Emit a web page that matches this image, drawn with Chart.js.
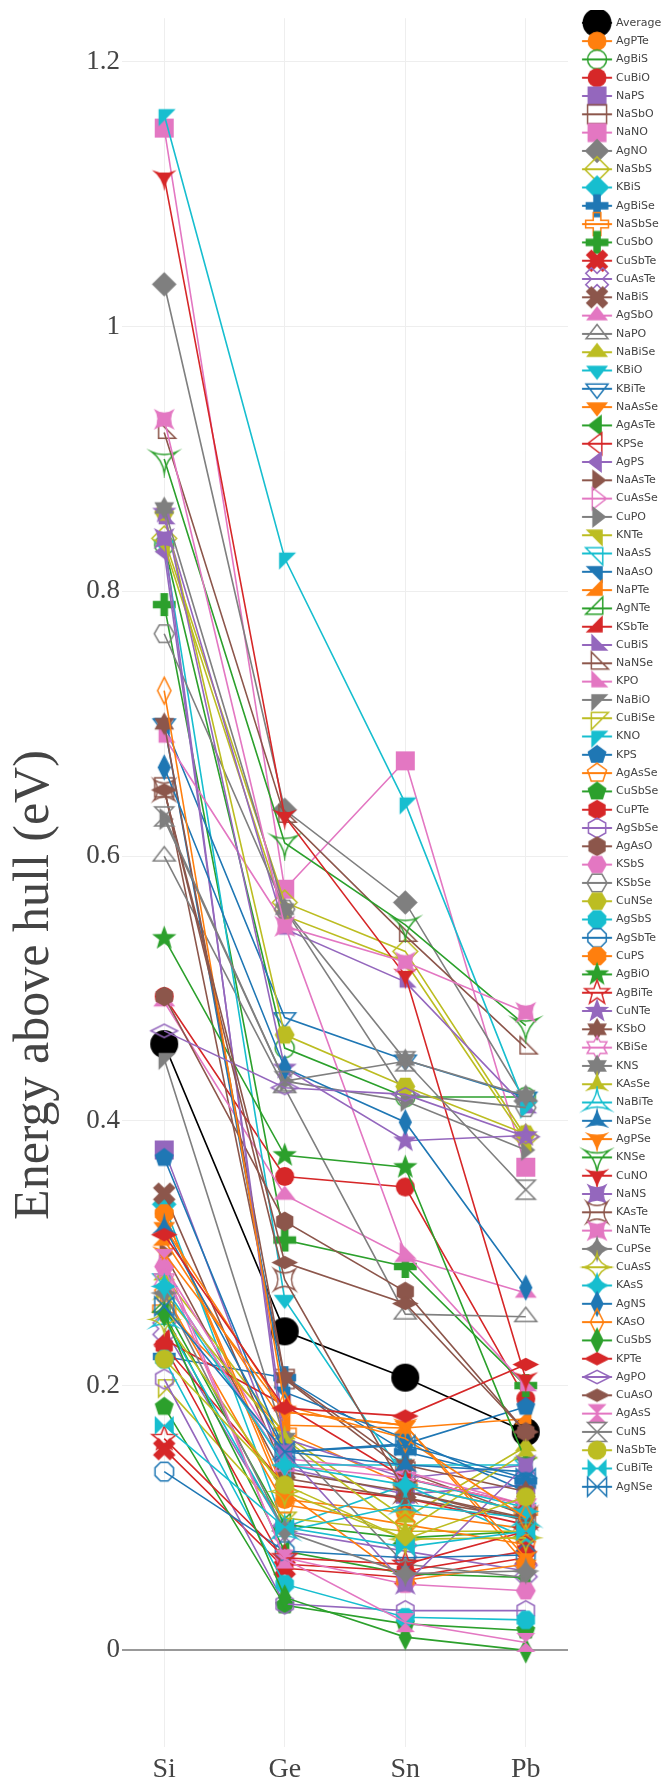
<!DOCTYPE html>
<html>
<head>
<meta charset="utf-8">
<script src="https://cdn.jsdelivr.net/npm/chart.js@4.4.1/dist/chart.umd.min.js"></script>
<style>
  html, body { margin: 0; padding: 0; background: #fff; }
  #wrap { width: 669px; height: 1790px; }
</style>
</head>
<body>
<div id="wrap"><canvas id="hull"></canvas></div>
<script>
/* Energy above hull per compound, across Si / Ge / Sn / Pb. */
var CATEGORIES = ["Si", "Ge", "Sn", "Pb"];
var NAMES = ["Average", "AgPTe", "AgBiS", "CuBiO", "NaPS", "NaSbO", "NaNO", "AgNO", "NaSbS", "KBiS",
  "AgBiSe", "NaSbSe", "CuSbO", "CuSbTe", "CuAsTe", "NaBiS", "AgSbO", "NaPO", "NaBiSe", "KBiO",
  "KBiTe", "NaAsSe", "AgAsTe", "KPSe", "AgPS", "NaAsTe", "CuAsSe", "CuPO", "KNTe", "NaAsS",
  "NaAsO", "NaPTe", "AgNTe", "KSbTe", "CuBiS", "NaNSe", "KPO", "NaBiO", "CuBiSe", "KNO",
  "KPS", "AgAsSe", "CuSbSe", "CuPTe", "AgSbSe", "AgAsO", "KSbS", "KSbSe", "CuNSe", "AgSbS",
  "AgSbTe", "CuPS", "AgBiO", "AgBiTe", "CuNTe", "KSbO", "KBiSe", "KNS", "KAsSe", "NaBiTe",
  "NaPSe", "AgPSe", "KNSe", "CuNO", "NaNS", "KAsTe", "NaNTe", "CuPSe", "CuAsS", "KAsS",
  "AgNS", "KAsO", "CuSbS", "KPTe", "AgPO", "CuAsO", "AgAsS", "CuNS", "NaSbTe", "CuBiTe", "AgNSe"];

// eV above hull, one entry per name above
var SI = [0.458, 0.330, 0.835, 0.494, 0.378, 0.652, 1.150, 1.032, 0.840, 0.337,
  0.222, 0.258, 0.790, 0.152, 0.243, 0.345, 0.490, 0.600, 0.283, 0.835,
  0.700, 0.320, 0.255, 0.230, 0.830, 0.300, 0.290, 0.628, 0.835, 0.280,
  0.700, 0.310, 0.260, 0.235, 0.855, 0.920, 0.690, 0.447, 0.200, 1.160,
  0.372, 0.270, 0.184, 0.230, 0.205, 0.494, 0.290, 0.768, 0.860, 0.220,
  0.135, 0.330, 0.538, 0.160, 0.860, 0.700, 0.280, 0.863, 0.270, 0.250,
  0.320, 0.300, 0.900, 1.113, 0.840, 0.650, 0.930, 0.270, 0.250, 0.275,
  0.667, 0.725, 0.254, 0.314, 0.468, 0.650, 0.296, 0.630, 0.220, 0.170, 0.260];
var GE = [0.241, 0.114, 0.455, 0.358, 0.138, 0.205, 0.575, 0.635, 0.565, 0.093,
  0.206, 0.165, 0.310, 0.062, 0.090, 0.135, 0.344, 0.425, 0.163, 0.265,
  0.478, 0.180, 0.075, 0.125, 0.160, 0.130, 0.145, 0.430, 0.555, 0.140,
  0.195, 0.170, 0.095, 0.185, 0.545, 0.630, 0.548, 0.160, 0.100, 0.825,
  0.150, 0.110, 0.034, 0.065, 0.035, 0.324, 0.070, 0.560, 0.465, 0.050,
  0.075, 0.120, 0.374, 0.070, 0.440, 0.206, 0.140, 0.560, 0.160, 0.090,
  0.150, 0.180, 0.610, 0.630, 0.150, 0.280, 0.547, 0.090, 0.120, 0.140,
  0.440, 0.185, 0.040, 0.183, 0.425, 0.293, 0.069, 0.430, 0.125, 0.093, 0.150];
var SN = [0.206, 0.104, 0.418, 0.350, 0.118, 0.135, 0.672, 0.565, 0.528, 0.125,
  0.150, 0.125, 0.290, 0.055, 0.075, 0.120, 0.297, 0.254, 0.100, 0.130,
  0.446, 0.170, 0.058, 0.115, 0.130, 0.115, 0.135, 0.415, 0.520, 0.140,
  0.160, 0.168, 0.085, 0.130, 0.505, 0.540, 0.300, 0.065, 0.090, 0.640,
  0.156, 0.095, 0.020, 0.060, 0.030, 0.271, 0.050, 0.420, 0.426, 0.025,
  0.070, 0.053, 0.365, 0.065, 0.385, 0.140, 0.130, 0.446, 0.090, 0.110,
  0.140, 0.170, 0.548, 0.510, 0.050, 0.120, 0.520, 0.058, 0.084, 0.125,
  0.399, 0.160, 0.010, 0.177, 0.420, 0.262, 0.021, 0.445, 0.084, 0.078, 0.155];
var PB = [0.165, 0.092, 0.418, 0.190, 0.125, 0.102, 0.365, 0.415, 0.388, 0.085,
  0.128, 0.105, 0.200, 0.070, 0.060, 0.098, 0.270, 0.252, 0.154, 0.108,
  0.418, 0.065, 0.055, 0.095, 0.140, 0.100, 0.110, 0.378, 0.385, 0.140,
  0.120, 0.175, 0.090, 0.110, 0.410, 0.455, 0.200, 0.055, 0.090, 0.410,
  0.184, 0.080, 0.015, 0.075, 0.030, 0.165, 0.045, 0.410, 0.390, 0.023,
  0.072, 0.065, 0.143, 0.090, 0.389, 0.120, 0.110, 0.419, 0.150, 0.100,
  0.135, 0.070, 0.472, 0.205, 0.140, 0.100, 0.482, 0.060, 0.085, 0.105,
  0.274, 0.100, 0.000, 0.216, 0.388, 0.165, 0.006, 0.348, 0.116, 0.090, 0.130];
var Y_TICKS = [0, 0.2, 0.4, 0.6, 0.8, 1, 1.2];
var Y_TITLE = "Energy above hull (eV)";

var PALETTE = ["#1f77b4", "#ff7f0e", "#2ca02c", "#d62728", "#9467bd", "#8c564b", "#e377c2", "#7f7f7f", "#bcbd22", "#17becf"];
var SHAPES = ["circle", "square", "diamond", "cross", "x", "triangle-up", "triangle-down", "triangle-left",
  "triangle-right", "triangle-ne", "triangle-se", "triangle-sw", "triangle-nw", "pentagon", "hexagon",
  "hexagon2", "octagon", "star", "hexagram", "star-triangle-up", "star-triangle-down", "star-square",
  "star-diamond", "diamond-tall", "diamond-wide"];
var TAIL = [["hourglass", false], ["hourglass", true], ["circle", false], ["bowtie", false], ["bowtie", true]];

function symbolFor(i) {
  if (i === 0) return { shape: "circle", open: false };
  if (i <= 75) return { shape: SHAPES[Math.floor((i - 1) / 3)], open: (i - 1) % 3 === 1 };
  return { shape: TAIL[i - 76][0], open: TAIL[i - 76][1] };
}

function tracePath(ctx, shape, r) {
  function poly(pts) {
    pts.forEach(function (p, k) { if (k) ctx.lineTo(p[0] * r, p[1] * r); else ctx.moveTo(p[0] * r, p[1] * r); });
    ctx.closePath();
  }
  function ngon(n, rad, rot) {
    var pts = [];
    for (var k = 0; k < n; k++) { var a = rot + k * 2 * Math.PI / n; pts.push([rad * Math.cos(a), rad * Math.sin(a)]); }
    poly(pts);
  }
  function star(n, ro, ri) {
    var pts = [];
    for (var k = 0; k < 2 * n; k++) { var a = -Math.PI / 2 + k * Math.PI / n, rr = k % 2 ? ri : ro; pts.push([rr * Math.cos(a), rr * Math.sin(a)]); }
    poly(pts);
  }
  function concave(verts, f) {
    ctx.moveTo(verts[0][0] * r, verts[0][1] * r);
    for (var k = 0; k < verts.length; k++) {
      var a = verts[k], b = verts[(k + 1) % verts.length];
      ctx.quadraticCurveTo((a[0] + b[0]) / 2 * f * r, (a[1] + b[1]) / 2 * f * r, b[0] * r, b[1] * r);
    }
    ctx.closePath();
  }
  function rot45(pts) {
    var c = Math.SQRT1_2;
    return pts.map(function (p) { return [(p[0] - p[1]) * c, (p[0] + p[1]) * c]; });
  }
  var a = 0.6, ca = 1.2, cb = 0.4;
  var crossPts = [[-cb, -ca], [cb, -ca], [cb, -cb], [ca, -cb], [ca, cb], [cb, cb], [cb, ca], [-cb, ca], [-cb, cb], [-ca, cb], [-ca, -cb], [-cb, -cb]];
  ctx.beginPath();
  switch (shape) {
    case "circle": ctx.arc(0, 0, r, 0, 2 * Math.PI); break;
    case "square": poly([[-1, -1], [1, -1], [1, 1], [-1, 1]]); break;
    case "diamond": poly([[0, -1.3], [1.3, 0], [0, 1.3], [-1.3, 0]]); break;
    case "cross": poly(crossPts); break;
    case "x": poly(rot45(crossPts.map(function (p) { return [p[0] * 1.05, p[1] * 1.05]; }))); break;
    case "triangle-up": poly([[-1.155, 0.5], [1.155, 0.5], [0, -1]]); break;
    case "triangle-down": poly([[-1.155, -0.5], [1.155, -0.5], [0, 1]]); break;
    case "triangle-left": poly([[0.5, -1.155], [0.5, 1.155], [-1, 0]]); break;
    case "triangle-right": poly([[-0.5, -1.155], [-0.5, 1.155], [1, 0]]); break;
    case "triangle-ne": poly([[a, -a], [-2 * a, -a], [a, 2 * a]]); break;
    case "triangle-se": poly([[a, a], [-2 * a, a], [a, -2 * a]]); break;
    case "triangle-sw": poly([[-a, a], [2 * a, a], [-a, -2 * a]]); break;
    case "triangle-nw": poly([[-a, -a], [2 * a, -a], [-a, 2 * a]]); break;
    case "pentagon": ngon(5, 1.05, -Math.PI / 2); break;
    case "hexagon": ngon(6, 1.05, -Math.PI / 2); break;
    case "hexagon2": ngon(6, 1.05, 0); break;
    case "octagon": ngon(8, 1.05, Math.PI / 8); break;
    case "star": star(5, 1.35, 0.55); break;
    case "hexagram": star(6, 1.2, 0.69); break;
    case "star-triangle-up": concave([[0, -1.5], [1.3, 0.75], [-1.3, 0.75]], 0.25); break;
    case "star-triangle-down": concave([[0, 1.5], [-1.3, -0.75], [1.3, -0.75]], 0.25); break;
    case "star-square": concave([[-1.1, -1.1], [1.1, -1.1], [1.1, 1.1], [-1.1, 1.1]], 0.3); break;
    case "star-diamond": concave([[0, -1.45], [1.45, 0], [0, 1.45], [-1.45, 0]], 0.3); break;
    case "diamond-tall": poly([[0, -1.4], [0.7, 0], [0, 1.4], [-0.7, 0]]); break;
    case "diamond-wide": poly([[-1.4, 0], [0, -0.7], [1.4, 0], [0, 0.7]]); break;
    case "hourglass": poly([[1, 1], [-1, 1], [1, -1], [-1, -1]]); break;
    case "bowtie": poly([[1, 1], [1, -1], [-1, 1], [-1, -1]]); break;
  }
}

function paintMarker(ctx, sym, color, r) {
  tracePath(ctx, sym.shape, r);
  if (sym.open) {
    ctx.lineWidth = 1.5; ctx.strokeStyle = color; ctx.stroke();
  } else {
    ctx.fillStyle = color; ctx.fill();
  }
}

function markerCanvas(sym, color, r) {
  var s = Math.ceil(r * 3.4 + 4), c = document.createElement("canvas");
  c.width = s; c.height = s;
  var ctx = c.getContext("2d");
  ctx.translate(s / 2, s / 2);
  paintMarker(ctx, sym, color, r);
  return c;
}

// legend swatch: short line with the marker sitting on it
function legendCanvas(sym, color, r) {
  var w = 44, h = 34, c = document.createElement("canvas");
  c.width = w; c.height = h;
  var ctx = c.getContext("2d");
  var mx = w / 2 + 4.1;
  ctx.strokeStyle = color; ctx.lineWidth = 2;
  ctx.beginPath(); ctx.moveTo(mx - 15, h / 2); ctx.lineTo(mx + 15, h / 2); ctx.stroke();
  ctx.translate(mx, h / 2);
  paintMarker(ctx, sym, color, r);
  return c;
}

var COLS = [SI, GE, SN, PB];
var legendIcons = [];
var datasets = NAMES.map(function (name, i) {
  var color = i === 0 ? "#000000" : PALETTE[i % 10];
  var sym = symbolFor(i);
  var r = i === 0 ? 14 : 9.5;
  legendIcons.push(legendCanvas(sym, color, i === 0 ? 14.5 : 9.5));
  return {
    label: name,
    data: CATEGORIES.map(function (c, k) { return { x: k, y: COLS[k][i] }; }),
    borderColor: color,
    backgroundColor: color,
    borderWidth: 1.6,
    pointStyle: markerCanvas(sym, color, r),
    pointRadius: r,
    tension: 0,
    order: NAMES.length - i
  };
});

var serif = "'Liberation Serif', 'Times New Roman', serif";

// rotated y-axis caption, drawn in the left margin
var yCaption = {
  id: "yCaption",
  afterDraw: function (chart) {
    var ctx = chart.ctx;
    ctx.save();
    ctx.translate(35, 985);
    ctx.rotate(-Math.PI / 2);
    ctx.font = "50px " + serif;
    ctx.fillStyle = "#444";
    ctx.textAlign = "center";
    ctx.textBaseline = "middle";
    ctx.fillText(Y_TITLE, 0, 0);
    ctx.restore();
  }
};

new Chart(document.getElementById("hull"), {
  type: "line",
  data: { datasets: datasets },
  plugins: [yCaption],
  options: {
    responsive: true,
    maintainAspectRatio: false,
    animation: false,
    layout: { padding: { top: 10, right: 0, bottom: 0, left: 0 } },
    plugins: {
      tooltip: { enabled: false },
      legend: {
        position: "right",
        align: "start",
        maxWidth: 101,
        labels: {
          usePointStyle: true,
          pointStyleWidth: 35.2,
          padding: 7.3,
          color: "#444",
          font: { family: "'DejaVu Sans', sans-serif", size: 11 },
          generateLabels: function (chart) {
            return chart.data.datasets.map(function (ds, i) {
              return { text: ds.label, pointStyle: legendIcons[i], datasetIndex: i, hidden: false,
                lineWidth: 0, strokeStyle: "transparent", fillStyle: "transparent", fontColor: "#444" };
            });
          }
        }
      }
    },
    scales: {
      x: {
        type: "linear",
        min: -0.35,
        max: 3.35,
        afterBuildTicks: function (s) { s.ticks = CATEGORIES.map(function (c, k) { return { value: k }; }); },
        afterFit: function (s) { s.height = 43; },
        border: { display: false },
        grid: { color: "#eeeeee", lineWidth: 1, drawTicks: false },
        ticks: {
          padding: 6,
          color: "#444",
          font: { family: serif, size: 28 },
          callback: function (v) { return CATEGORIES[v]; }
        }
      },
      y: {
        min: -0.073,
        max: 1.233,
        afterBuildTicks: function (s) { s.ticks = Y_TICKS.map(function (v) { return { value: v }; }); },
        afterFit: function (s) { s.width = 122; },
        border: { display: false },
        grid: {
          drawTicks: false,
          color: function (c) { return c.tick && c.tick.value === 0 ? "#999999" : "#eeeeee"; },
          lineWidth: function (c) { return c.tick && c.tick.value === 0 ? 2 : 1; }
        },
        ticks: {
          padding: 2,
          color: "#444",
          font: { family: serif, size: 27 },
          callback: function (v) { return String(Math.round(v * 10) / 10); }
        }
      }
    }
  }
});
</script>
</body>
</html>
